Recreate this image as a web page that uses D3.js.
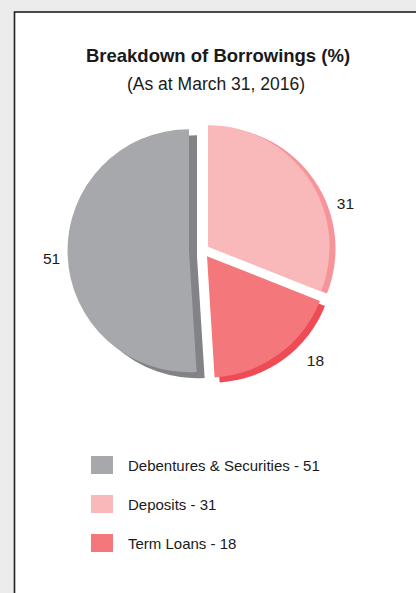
<!DOCTYPE html>
<html>
<head>
<meta charset="utf-8">
<script src="https://cdn.jsdelivr.net/npm/d3@7"></script>
<style>
  html, body { margin: 0; padding: 0; background: #ececec; }
  svg { display: block; }
  text { font-family: "Liberation Sans", Arial, sans-serif; fill: #1a1a1a; }
</style>
</head>
<body>
<svg id="chart" width="416" height="593"></svg>
<script>
// Borrowings mix, % of total
const categories = ["Debentures & Securities", "Deposits", "Term Loans"];
const values = [51, 31, 18];
const legendLabels = categories.map((c, i) => `${c} - ${values[i]}`);

const titleText = "Breakdown of Borrowings (%)";
const subtitleText = "(As at March 31, 2016)";

// Appearance
const fills = ["#a7a8ac", "#f9b9bb", "#f3777b"];
const depthFills = ["#828387", "#f6949a", "#ef4b54"];
const explode = [13.7, 6.4, 7.3];          // outward pull of each slice
const depth = [[8, 6], [6, 2], [5, 5]];    // offset of the darker side face
const labelTurn = [-1.3, 16.6, -10.2];     // degrees from each slice's bisector
const labelRadius = [137.6, 144.2, 150.3];

const W = 416, H = 593;
const svg = d3.select("#chart");

// panel
svg.append("rect")
  .attr("x", 14.5).attr("y", 12)
  .attr("width", W + 10).attr("height", H + 10)
  .attr("fill", "#ffffff")
  .attr("stroke", "#1f1f1f")
  .attr("stroke-width", 1.6);

// titles
svg.append("text")
  .attr("x", 218).attr("y", 62)
  .attr("text-anchor", "middle")
  .attr("font-size", 18.5).attr("font-weight", "bold")
  .text(titleText);
svg.append("text")
  .attr("x", 216).attr("y", 90)
  .attr("text-anchor", "middle")
  .attr("font-size", 17.5)
  .text(subtitleText);

// pie
const cx = 202.7, cy = 250.3, R = 121.5;
const lead = 2 * Math.PI * values[0] / d3.sum(values);
const pie = d3.pie().sort(null).value(d => d)
  .startAngle(-lead).endAngle(2 * Math.PI - lead);
const arcs = pie(values);
const arc = d3.arc().innerRadius(0).outerRadius(R);

function sliceCenter(a, i) {
  const m = (a.startAngle + a.endAngle) / 2;
  return [cx + explode[i] * Math.sin(m), cy - explode[i] * Math.cos(m)];
}

const g = svg.append("g");

// side faces first, then the slice tops
g.selectAll("path.depth")
  .data(arcs)
  .join("path")
  .attr("class", "depth")
  .attr("d", arc)
  .attr("fill", (d, i) => depthFills[i])
  .attr("transform", (d, i) => {
    const [x, y] = sliceCenter(d, i);
    return `translate(${x + depth[i][0]},${y + depth[i][1]})`;
  });

g.selectAll("path.slice")
  .data(arcs)
  .join("path")
  .attr("class", "slice")
  .attr("d", arc)
  .attr("fill", (d, i) => fills[i])
  .attr("transform", (d, i) => {
    const [x, y] = sliceCenter(d, i);
    return `translate(${x},${y})`;
  });

// value labels
g.selectAll("text.value")
  .data(arcs)
  .join("text")
  .attr("class", "value")
  .attr("text-anchor", "middle")
  .attr("font-size", 15.5)
  .attr("dy", "0.36em")
  .attr("x", (d, i) => {
    const [x] = sliceCenter(d, i);
    const m = (d.startAngle + d.endAngle) / 2 + labelTurn[i] * Math.PI / 180;
    return x + labelRadius[i] * Math.sin(m);
  })
  .attr("y", (d, i) => {
    const [, y] = sliceCenter(d, i);
    const m = (d.startAngle + d.endAngle) / 2 + labelTurn[i] * Math.PI / 180;
    return y - labelRadius[i] * Math.cos(m);
  })
  .text(d => d.data);

// legend
const legendY = d3.scalePoint().domain(categories).range([456, 534]);
const legend = svg.append("g")
  .selectAll("g")
  .data(categories)
  .join("g")
  .attr("transform", d => `translate(91,${legendY(d)})`);
legend.append("rect")
  .attr("width", 22).attr("height", 18)
  .attr("fill", (d, i) => fills[i]);
legend.append("text")
  .attr("x", 37).attr("y", 15)
  .attr("font-size", 15)
  .text((d, i) => legendLabels[i]);
</script>
</body>
</html>
